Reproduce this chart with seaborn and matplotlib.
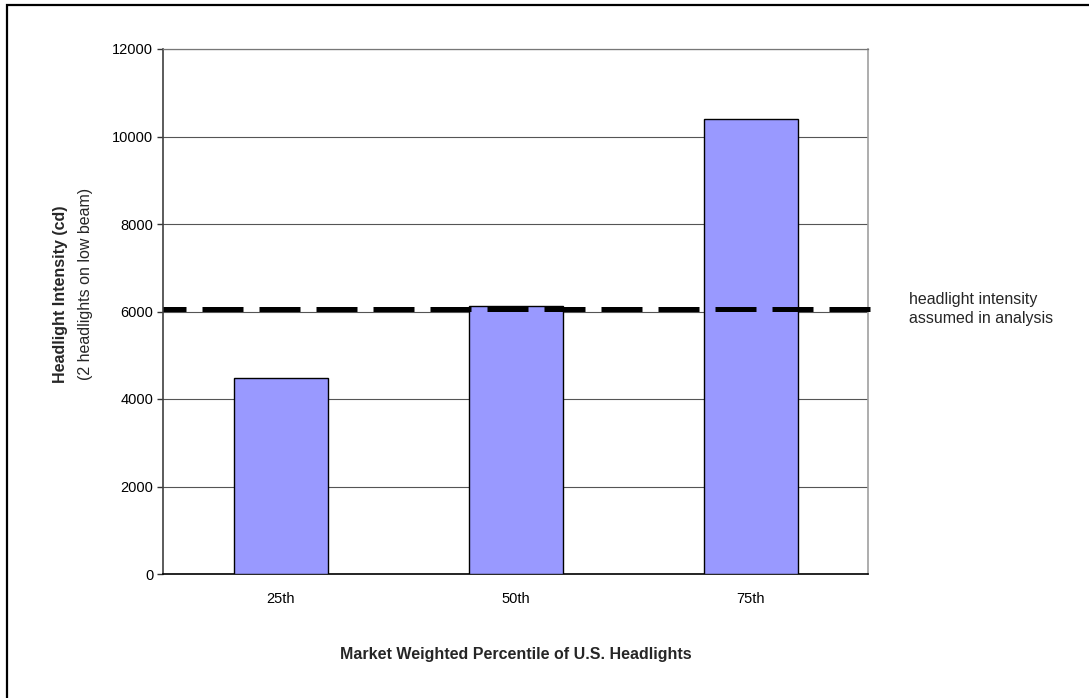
import matplotlib
matplotlib.use("Agg")
import matplotlib.pyplot as plt
import matplotlib.patches as mpatches
import seaborn as sns
import pandas as pd

# Market weighted percentiles of U.S. low-beam headlight intensity
percentiles = ["25th", "50th", "75th"]
intensity_cd = [4490, 6130, 10400]
assumed_intensity = 6050
y_ticks = [0, 2000, 4000, 6000, 8000, 10000, 12000]

sns.set_theme(style="white")
plt.rcParams["font.family"] = ["Liberation Sans", "DejaVu Sans"]

df = pd.DataFrame({"percentile": percentiles, "intensity": intensity_cd})

fig = plt.figure(figsize=(10.89, 6.98), dpi=100)
ax = fig.add_axes([163 / 1089, 1 - 574 / 698, (868 - 163) / 1089, (574 - 49) / 698])

sns.barplot(data=df, x="percentile", y="intensity", color="#9999FF",
            saturation=1, width=0.4, edgecolor="black", linewidth=1.0, ax=ax, zorder=3)

ax.set_xlim(-0.5, 2.5)
ax.set_ylim(0, 12000)
ax.set_yticks(y_ticks)
ax.set_yticklabels([str(v) for v in y_ticks], fontsize=10.5, color="black")
ax.yaxis.grid(True, color="#555555", linewidth=0.8, zorder=0)
ax.set_axisbelow(True)

# category labels centred, tick marks on category boundaries
ax.set_xticks([0, 1, 2])
ax.set_xticklabels(percentiles, fontsize=10.5, color="black")
ax.set_xticks([-0.5, 0.5, 1.5, 2.5], minor=True)
ax.tick_params(axis="x", which="major", length=0, pad=13)
ax.tick_params(axis="x", which="minor", length=4, width=1, color="#333333", direction="out")
ax.tick_params(axis="y", length=4, width=1, color="#333333", direction="out", pad=3, left=True)

for side in ["left", "bottom", "right", "top"]:
    ax.spines[side].set_visible(True)
ax.spines["left"].set_color("#404040")
ax.spines["left"].set_linewidth(1.2)
ax.spines["bottom"].set_color("black")
ax.spines["bottom"].set_linewidth(1.2)
ax.spines["right"].set_color("#a0a0a0")
ax.spines["right"].set_linewidth(1.2)
ax.spines["top"].set_color("#777777")
ax.spines["top"].set_linewidth(0.9)

ax.set_xlabel("")
ax.set_ylabel("")

# assumed intensity reference line
ax.axhline(assumed_intensity, xmin=0, xmax=1.004, color="black", linewidth=3.6,
           linestyle=(3.6, (8.2, 3.2)), clip_on=False, zorder=4)
fig.text(909 / 1089, 1 - 309 / 698, "headlight intensity\nassumed in analysis",
         fontsize=11.5, ha="left", va="center", linespacing=1.3)

# axis titles
fig.text(60 / 1089, 1 - 294 / 698, "Headlight Intensity (cd)", rotation=90,
         fontsize=11.5, fontweight="bold", ha="center", va="center")
fig.text(85 / 1089, 1 - 284 / 698, "(2 headlights on low beam)", rotation=90,
         fontsize=11.5, ha="center", va="center")
fig.text(516 / 1089, 1 - 655 / 698, "Market Weighted Percentile of U.S. Headlights",
         fontsize=11.5, fontweight="bold", ha="center", va="center")

# outer frame
fig.patches.append(mpatches.Rectangle((6.5 / 1089, -0.05), 1.1, 1 - 5 / 698 + 0.05,
                                      transform=fig.transFigure, fill=False,
                                      edgecolor="black", linewidth=1.6))

fig.savefig("out.png", dpi=100, facecolor="white")
